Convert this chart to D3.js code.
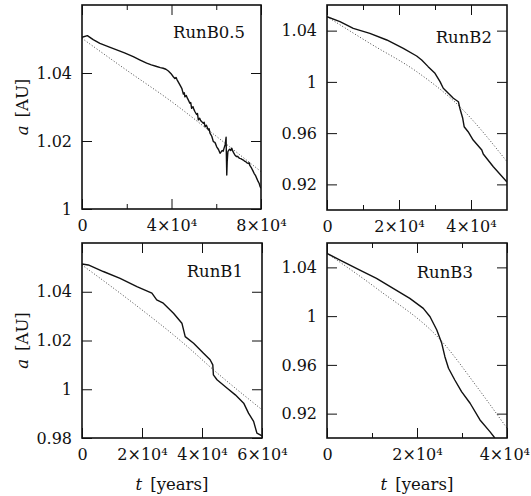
<!DOCTYPE html>
<html>
<head>
<meta charset="utf-8">
<script src="https://cdn.jsdelivr.net/npm/d3@7"></script>
<style>
  body { margin: 0; background: #fff; }
  svg { display: block; }
  text { font-family: "DejaVu Serif", "Liberation Serif", serif; fill: #111; }
</style>
</head>
<body>
<svg id="chart" width="531" height="496"></svg>
<script>
// panel data, t in years, a in AU
var panelNames = ['RunB0.5', 'RunB2', 'RunB1', 'RunB3'];
var tMax = [80000, 50000, 60000, 40000];
var aRange = [[1, 1.06], [0.9, 1.06], [0.98, 1.06], [0.9, 1.06]];
var aTicks = [[1, 1.02, 1.04], [0.92, 0.96, 1, 1.04], [0.98, 1, 1.02, 1.04], [0.92, 0.96, 1, 1.04]];
var tMajor = [[0, 40000, 80000], [0, 20000, 40000], [0, 20000, 40000, 60000], [0, 20000, 40000]];
var tMinor = [[20000, 60000], [10000, 30000], [], [10000, 30000]];

// simulated runs (solid)
var runB05 = [[0, 1.0505], [2400, 1.0510], [5000, 1.0498], [8000, 1.0487], [12000, 1.0477], [15500, 1.0468],
    [19000, 1.0459], [22900, 1.0448], [26000, 1.0438], [28900, 1.0429], [31000, 1.0424], [33400, 1.0419],
    [35000, 1.0416], [36300, 1.0414], [37500, 1.0411], [38600, 1.0406], [39800, 1.0398], [40800, 1.0389],
    [41500, 1.0384], [42000, 1.0387], [42500, 1.0380], [43000, 1.0374], [44000, 1.0362], [44600, 1.0355],
    [45300, 1.0338], [45700, 1.0342], [46000, 1.0330], [46600, 1.0334], [47100, 1.0326], [47500, 1.0321],
    [48200, 1.0311], [48600, 1.0313], [49000, 1.0296], [49600, 1.0301], [50000, 1.0293], [50500, 1.0286],
    [51200, 1.0278], [51600, 1.0281], [52000, 1.0262], [52600, 1.0267], [53000, 1.0260], [53500, 1.0257],
    [54200, 1.0252], [54600, 1.0255], [55000, 1.0242], [55600, 1.0246], [56400, 1.0233], [56800, 1.0236],
    [57200, 1.0223], [58000, 1.0214], [58700, 1.0198], [59400, 1.0196], [59800, 1.0190], [60200, 1.0183],
    [61000, 1.0175], [61700, 1.0164], [62200, 1.0168], [62600, 1.0172], [63100, 1.0170], [63500, 1.0179],
    [64000, 1.0190], [64400, 1.0211], [64550, 1.0150], [64700, 1.0100], [64900, 1.0140], [65200, 1.0169],
    [65600, 1.0173], [66000, 1.0176], [66500, 1.0172], [66900, 1.0179], [67400, 1.0170], [67800, 1.0165],
    [68400, 1.0158], [69100, 1.0154], [69600, 1.0155], [70000, 1.0151], [70500, 1.0149], [71000, 1.0148],
    [71500, 1.0146], [72100, 1.0144], [72600, 1.0141], [73200, 1.0139], [73700, 1.0136], [74300, 1.0134],
    [74700, 1.0136], [75000, 1.0128], [75800, 1.0120], [76400, 1.0112], [76900, 1.0105], [77500, 1.0099],
    [78100, 1.0090], [78700, 1.0081], [79200, 1.0075], [79600, 1.0066], [80000, 1.0061]];
var runB2 = [[0, 1.0509], [3600, 1.0470], [7300, 1.0418], [11900, 1.0379], [16600, 1.0327], [21200, 1.0262],
    [24900, 1.0202], [26300, 1.0171], [28100, 1.0119], [30000, 1.0067], [31400, 1.0002], [32300, 0.9950],
    [33700, 0.9911], [35100, 0.9872], [36500, 0.9845], [36900, 0.9794], [37700, 0.9716], [38100, 0.9650],
    [39200, 0.9611], [40600, 0.9546], [43000, 0.9468], [43400, 0.9437], [46200, 0.9338], [50000, 0.9218]];
var runB1 = [[0, 1.0514], [2100, 1.0510], [7100, 1.0483], [12700, 1.0455], [18300, 1.0421], [23300, 1.0394],
    [24900, 1.0367], [27100, 1.0353], [30500, 1.0312], [33300, 1.0271], [34400, 1.0216], [37200, 1.0189],
    [40500, 1.0148], [42700, 1.0121], [43600, 1.0100], [43800, 1.0059], [45000, 1.0039], [48300, 1.0005],
    [51100, 0.9977], [53900, 0.9943], [55500, 0.9902], [57200, 0.9868], [58300, 0.9820], [60000, 0.9809]];
var runB3 = [[0, 1.0515], [2900, 1.0460], [7300, 1.0378], [11000, 1.0310], [14700, 1.0228], [18400, 1.0146],
    [21400, 1.0064], [22900, 0.9995], [24400, 0.9886], [25500, 0.9777], [26200, 0.9667], [27000, 0.9572],
    [28400, 0.9476], [29900, 0.9380], [31800, 0.9285], [34000, 0.9148], [36200, 0.9052], [37300, 0.9000]];

// model curves (dotted)
var modelB05 = [[0, 1.0502], [20000, 1.0408], [40000, 1.0316], [60000, 1.0214], [80000, 1.0110]];
var modelB2 = [[0, 1.0509], [11900, 1.0301], [24900, 1.0080], [36900, 0.9806], [50000, 0.9377]];
var modelB1 = [[0, 1.0510], [17100, 1.0353], [33800, 1.0189], [43800, 1.0080], [60000, 0.9916]];
var modelB3 = [[0, 1.0515], [11000, 1.0228], [25900, 0.9777], [33300, 0.9421], [40000, 0.9080]];

var runs = [runB05, runB2, runB1, runB3];
var models = [modelB05, modelB2, modelB1, modelB3];

// layout
var width = 531;
var boxes = [
    {x0: 82, x1: 261, y0: 5, y1: 209},
    {x0: 327, x1: 507, y0: 5, y1: 210},
    {x0: 82, x1: 262, y0: 243, y1: 438},
    {x0: 327, x1: 507, y0: 243, y1: 438}
];
var nameOffset = [[16, 33], [15, 38], [19, 34], [34, 35]];
var fontSize = 16.5;
var tickFontSize = 16;

var svg = d3.select('#chart');

var tFormat = function(t) {
    return t === 0 ? '0' : (t / 10000) + '×10⁴';
};
var aFormat = function(a) {
    return String(+a.toFixed(2));
};

function styleAxis(g) {
    g.attr('font-family', null).attr('font-size', null);
    g.select('.domain').remove();
    g.selectAll('line').attr('stroke', '#111').attr('stroke-width', 1);
    g.selectAll('text').style('font-size', tickFontSize + 'px');
}

boxes.forEach(function(b, i) {
    var x = d3.scaleLinear().domain([0, tMax[i]]).range([b.x0, b.x1]);
    var y = d3.scaleLinear().domain(aRange[i]).range([b.y1, b.y0]);
    var panel = svg.append('g').attr('class', 'panel');

    panel.append('clipPath').attr('id', 'clip' + i)
        .append('rect')
        .attr('x', b.x0).attr('y', b.y0)
        .attr('width', b.x1 - b.x0).attr('height', b.y1 - b.y0);

    // major + minor ticks on all four sides
    var bottom = panel.append('g').attr('transform', 'translate(0,' + b.y1 + ')')
        .call(d3.axisBottom(x).tickValues(tMajor[i]).tickSize(-10).tickPadding(11).tickFormat(tFormat))
        .call(styleAxis);
    // keep the last label inside the page
    bottom.selectAll('.tick').each(function() {
        var tick = d3.select(this);
        var txt = tick.select('text');
        var bb = this.getBBox();
        var m = this.getCTM();
        var right = m.e + bb.x + bb.width;
        if (right > width - 1) {
            txt.attr('x', -(right - width + 1));
        }
    });
    panel.append('g').attr('transform', 'translate(0,' + b.y1 + ')')
        .call(d3.axisBottom(x).tickValues(tMinor[i]).tickSize(-5).tickFormat(''))
        .call(styleAxis);
    panel.append('g').attr('transform', 'translate(0,' + b.y0 + ')')
        .call(d3.axisTop(x).tickValues(tMajor[i]).tickSize(-10).tickFormat(''))
        .call(styleAxis);
    panel.append('g').attr('transform', 'translate(0,' + b.y0 + ')')
        .call(d3.axisTop(x).tickValues(tMinor[i]).tickSize(-5).tickFormat(''))
        .call(styleAxis);
    panel.append('g').attr('transform', 'translate(' + b.x0 + ',0)')
        .call(d3.axisLeft(y).tickValues(aTicks[i]).tickSize(-10).tickPadding(10).tickFormat(aFormat))
        .call(styleAxis);
    panel.append('g').attr('transform', 'translate(' + b.x1 + ',0)')
        .call(d3.axisRight(y).tickValues(aTicks[i]).tickSize(-10).tickFormat(''))
        .call(styleAxis);

    var line = d3.line()
        .x(function(d) { return x(d[0]); })
        .y(function(d) { return y(d[1]); });

    var plot = panel.append('g').attr('clip-path', 'url(#clip' + i + ')');
    plot.append('path')
        .datum(models[i])
        .attr('d', line.curve(d3.curveMonotoneX))
        .attr('fill', 'none')
        .attr('stroke', '#333')
        .attr('stroke-width', 0.9)
        .attr('stroke-dasharray', '1,2');
    plot.append('path')
        .datum(runs[i])
        .attr('d', line.curve(d3.curveLinear))
        .attr('fill', 'none')
        .attr('stroke', '#111')
        .attr('stroke-width', 1.4)
        .attr('stroke-linejoin', 'round');

    // frame
    panel.append('rect')
        .attr('x', b.x0).attr('y', b.y0)
        .attr('width', b.x1 - b.x0).attr('height', b.y1 - b.y0)
        .attr('fill', 'none')
        .attr('stroke', '#111')
        .attr('stroke-width', 1.6);

    panel.append('text')
        .attr('x', b.x1 - nameOffset[i][0])
        .attr('y', b.y0 + nameOffset[i][1])
        .attr('text-anchor', 'end')
        .style('font-size', fontSize + 'px')
        .text(panelNames[i]);

    // axis titles: left column gets a, bottom row gets t
    if (i % 2 === 0) {
        var ay = panel.append('text')
            .attr('transform', 'translate(28,' + ((b.y0 + b.y1) / 2) + ') rotate(-90)')
            .attr('text-anchor', 'middle')
            .style('font-size', fontSize + 'px');
        ay.append('tspan').attr('font-style', 'italic').text('a');
        ay.append('tspan').attr('dx', 8).text('[AU]');
    }
    if (i >= 2) {
        var tx = panel.append('text')
            .attr('x', (b.x0 + b.x1) / 2)
            .attr('y', 490)
            .attr('text-anchor', 'middle')
            .style('font-size', fontSize + 'px');
        tx.append('tspan').attr('font-style', 'italic').text('t');
        tx.append('tspan').attr('dx', 8).text('[years]');
    }
});
</script>
</body>
</html>
